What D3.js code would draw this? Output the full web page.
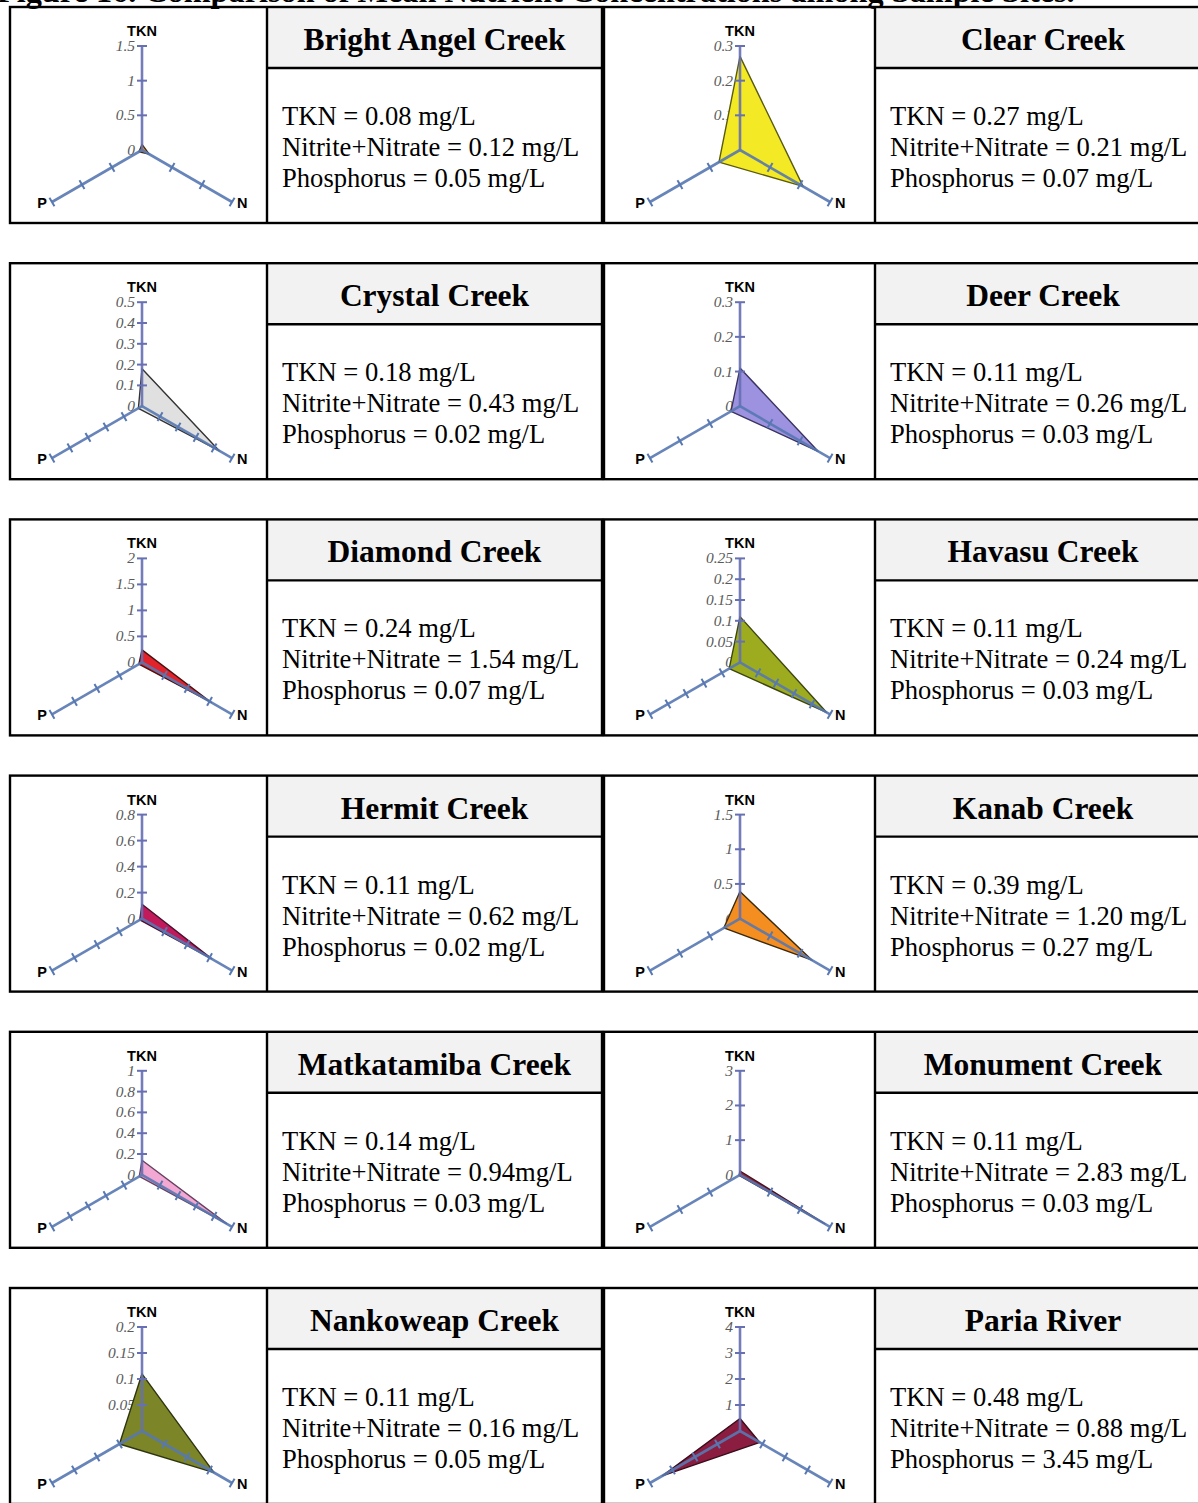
<!DOCTYPE html>
<html>
<head>
<meta charset="utf-8">
<script src="https://cdn.jsdelivr.net/npm/d3@7/dist/d3.min.js"></script>
<style>
  html, body { margin: 0; padding: 0; background: #ffffff; }
  svg { display: block; }
</style>
</head>
<body>
<svg id="fig" width="1198" height="1503"></svg>
<script>
// Mean nutrient concentrations (mg/L) at each sample site
const sites = [
  "Bright Angel Creek", "Clear Creek", "Crystal Creek", "Deer Creek",
  "Diamond Creek", "Havasu Creek", "Hermit Creek", "Kanab Creek",
  "Matkatamiba Creek", "Monument Creek", "Nankoweap Creek", "Paria River"
];
const tkn        = [0.08, 0.27, 0.18, 0.11, 0.24, 0.11, 0.11, 0.39, 0.14, 0.11, 0.11, 0.48];
const nitrate    = [0.12, 0.21, 0.43, 0.26, 1.54, 0.24, 0.62, 1.20, 0.94, 2.83, 0.16, 0.88];
const phosphorus = [0.05, 0.07, 0.02, 0.03, 0.07, 0.03, 0.02, 0.27, 0.03, 0.03, 0.05, 3.45];

// Radial axis tick labels for each site's chart (last value is the axis maximum)
const tickLabels = [
  ["0", "0.5", "1", "1.5"],
  ["0", "0.1", "0.2", "0.3"],
  ["0", "0.1", "0.2", "0.3", "0.4", "0.5"],
  ["0", "0.1", "0.2", "0.3"],
  ["0", "0.5", "1", "1.5", "2"],
  ["0", "0.05", "0.1", "0.15", "0.2", "0.25"],
  ["0", "0.2", "0.4", "0.6", "0.8"],
  ["0", "0.5", "1", "1.5"],
  ["0", "0.2", "0.4", "0.6", "0.8", "1"],
  ["0", "1", "2", "3"],
  ["0", "0.05", "0.1", "0.15", "0.2"],
  ["0", "1", "2", "3", "4"]
];

const axisNames = ["TKN", "N", "P"];

// Fill colour of each site's polygon
const fills = [
  "#f7941d", "#f4e925", "#e0e0e0", "#9d92e0",
  "#e2232b", "#9dac1f", "#c21b5c", "#f58e20",
  "#f2a8d3", "#8e2b3a", "#7c8628", "#8b1d40"
];
const outlines = [
  "#3a2a10", "#5a5a10", "#333333", "#3a3360",
  "#4a1010", "#3d4510", "#4a1030", "#3a2a10",
  "#6a4060", "#4a1020", "#2f3510", "#3a0c1c"
];

const svg = d3.select("#fig");
const serif = "Liberation Serif, Times New Roman, serif";
const sans = "Liberation Sans, Arial, sans-serif";

// Caption above the table, running off the top edge of the page
const caption = svg.append("text")
  .attr("x", -3).attr("y", 1.5)
  .attr("font-family", serif)
  .attr("font-weight", "bold")
  .attr("font-size", 30)
  .attr("fill", "#000")
  .text("Figure 16. Comparison of Mean Nutrient Concentrations among Sample Sites.");
// size the caption so it spans the table width
const capLen = caption.node().getComputedTextLength();
caption.attr("font-size", 30 * 1078 / capLen);

// Table geometry
const rowTop = i => 7 + i * 256.2;
const rowH = 216;
const headH = 61;
const cols = [
  { cellX: 10,  headX: 267, headR: 602,  cx: 142 },
  { cellX: 604, headX: 875, headR: 1211, cx: 740 }
];
const R = 104;
const tknAxisColor = "#6670b2";
const axisColor = "#5878b2";

// Angles measured clockwise from 12 o'clock: TKN up, N lower right, P lower left
const angles = [0, 2 * Math.PI / 3, 4 * Math.PI / 3];
const polar = (a, r) => [r * Math.sin(a), -r * Math.cos(a)];

sites.forEach((site, i) => {
  const col = cols[i % 2];
  const top = rowTop(Math.floor(i / 2));
  const g = svg.append("g");

  // Header band
  g.append("rect")
    .attr("x", col.headX).attr("y", top)
    .attr("width", col.headR - col.headX).attr("height", headH)
    .attr("fill", "#f2f2f2");

  // Cell frame
  g.append("rect")
    .attr("x", col.cellX).attr("y", top)
    .attr("width", col.headR - col.cellX).attr("height", rowH)
    .attr("fill", "none").attr("stroke", "#000").attr("stroke-width", 2.4);
  g.append("line")
    .attr("x1", col.headX).attr("x2", col.headX)
    .attr("y1", top).attr("y2", top + rowH)
    .attr("stroke", "#000").attr("stroke-width", 2.4);
  g.append("line")
    .attr("x1", col.headX).attr("x2", col.headR)
    .attr("y1", top + headH).attr("y2", top + headH)
    .attr("stroke", "#000").attr("stroke-width", 2.4);

  // Site name
  g.append("text")
    .attr("x", (col.headX + col.headR) / 2).attr("y", top + 43)
    .attr("text-anchor", "middle")
    .attr("font-family", serif).attr("font-weight", "bold").attr("font-size", 31.5)
    .text(site);

  // Concentration statements
  const sep = site === "Matkatamiba Creek" ? "" : " ";
  const lines = [
    `TKN = ${tkn[i].toFixed(2)} mg/L`,
    `Nitrite+Nitrate = ${nitrate[i].toFixed(2)}${sep}mg/L`,
    `Phosphorus = ${phosphorus[i].toFixed(2)} mg/L`
  ];
  lines.forEach((t, k) => {
    g.append("text")
      .attr("x", col.headX + 15).attr("y", top + 118 + k * 31)
      .attr("font-family", serif).attr("font-size", 26.6)
      .text(t);
  });

  // Radar chart
  const ticks = tickLabels[i];
  const maxV = +ticks[ticks.length - 1];
  const r = d3.scaleLinear().domain([0, maxV]).range([0, R]);
  const cx = col.cx, cy = top + 143;
  const chart = g.append("g").attr("transform", `translate(${cx},${cy})`);

  // Tick labels on the TKN axis
  chart.selectAll("text.tick").data(ticks).join("text")
    .attr("class", "tick")
    .attr("x", -7).attr("y", d => -r(+d) + 5)
    .attr("text-anchor", "end")
    .attr("font-family", serif).attr("font-style", "italic").attr("font-size", 15.5)
    .attr("fill", "#5a5a5a")
    .text(d => d);

  // Data polygon
  const vals = [tkn[i], nitrate[i], phosphorus[i]];
  const radial = d3.lineRadial()
    .angle((d, k) => angles[k])
    .radius(d => r(d))
    .curve(d3.curveLinearClosed);
  chart.append("path")
    .attr("d", radial(vals))
    .attr("fill", fills[i])
    .attr("stroke", outlines[i])
    .attr("stroke-width", 1.4)
    .attr("stroke-linejoin", "round");

  // Axes with tick marks
  angles.forEach((a, k) => {
    const end = polar(a, R);
    const c = k === 0 ? tknAxisColor : axisColor;
    chart.append("line")
      .attr("x1", 0).attr("y1", 0).attr("x2", end[0]).attr("y2", end[1])
      .attr("stroke", c).attr("stroke-width", 2.6).attr("opacity", 0.9);
    const nx = Math.cos(a), ny = Math.sin(a); // perpendicular direction
    ticks.slice(1).forEach(t => {
      const p = polar(a, r(+t));
      chart.append("line")
        .attr("x1", p[0] - 5 * nx).attr("y1", p[1] - 5 * ny)
        .attr("x2", p[0] + 5 * nx).attr("y2", p[1] + 5 * ny)
        .attr("stroke", c).attr("stroke-width", 2);
    });
  });

  // Axis names
  const tEnd = polar(angles[0], R), nEnd = polar(angles[1], R), pEnd = polar(angles[2], R);
  chart.append("text")
    .attr("x", tEnd[0]).attr("y", tEnd[1] - 10)
    .attr("text-anchor", "middle")
    .attr("font-family", sans).attr("font-weight", "bold").attr("font-size", 14.5)
    .text(axisNames[0]);
  chart.append("text")
    .attr("x", nEnd[0] + 5).attr("y", nEnd[1] + 6)
    .attr("font-family", sans).attr("font-weight", "bold").attr("font-size", 14.5)
    .text(axisNames[1]);
  chart.append("text")
    .attr("x", pEnd[0] - 5).attr("y", pEnd[1] + 6)
    .attr("text-anchor", "end")
    .attr("font-family", sans).attr("font-weight", "bold").attr("font-size", 14.5)
    .text(axisNames[2]);
});
</script>
</body>
</html>
